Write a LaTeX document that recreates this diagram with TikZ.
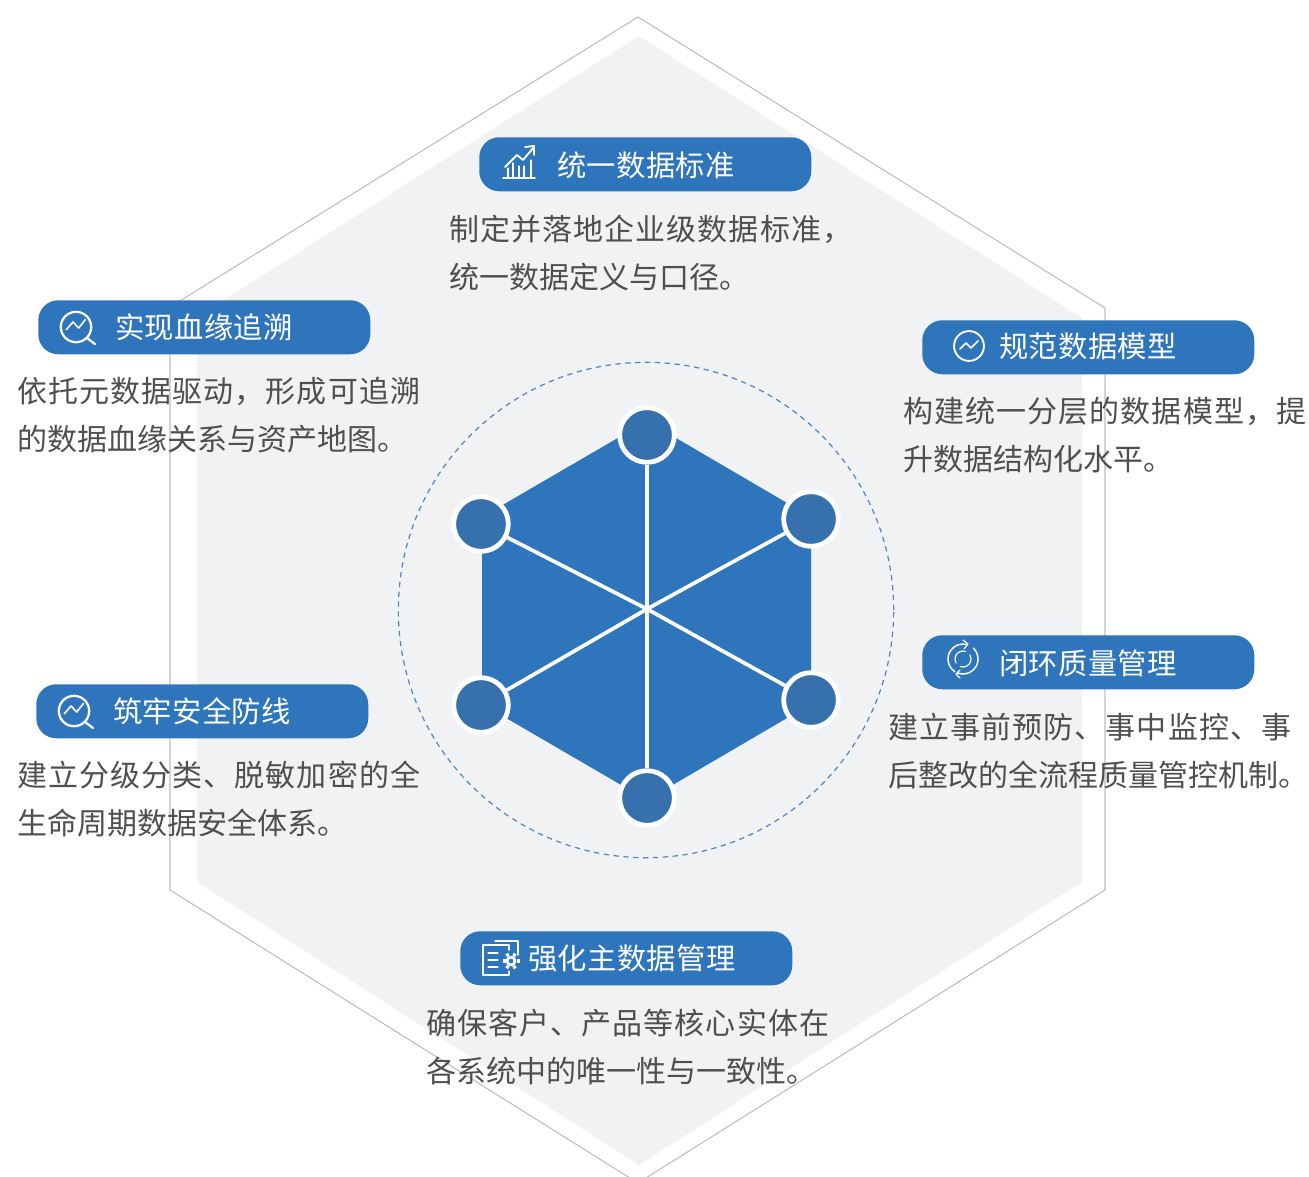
\documentclass[tikz,border=0pt]{standalone}
\usepackage{fontspec}
\setmainfont{Noto Sans CJK SC}
\newfontfamily\cjkbody[LetterSpace=3.6]{Noto Sans CJK SC}
\newfontfamily\cjkplain{Noto Sans CJK SC}
\newfontfamily\cjkhead[LetterSpace=1]{Noto Sans CJK SC}
\definecolor{pillblue}{HTML}{2E75BB}
\definecolor{nodeblue}{HTML}{3671AD}
\definecolor{hexgrey}{HTML}{F1F2F4}
\definecolor{hexline}{HTML}{BDBDBD}
\definecolor{bodytext}{HTML}{4F4F4F}
\definecolor{dashblue}{HTML}{4A86C5}
\tikzset{
  x=0.75pt,y=-0.75pt,
  pill/.style={fill=pillblue,rounded corners=15pt,minimum width=249pt,minimum height=40.5pt,inner sep=0pt,anchor=north west},
  pilltext/.style={text=white,anchor=west,inner sep=0pt,font=\fontsize{22pt}{26pt}\selectfont\cjkhead},
  bodylabel/.style={text=bodytext,anchor=north west,inner sep=0pt,align=left,font=\fontsize{22.5pt}{36pt}\selectfont\cjkbody},
  hubdot/.style={circle,fill=nodeblue,draw=white,line width=3.6pt,minimum size=41pt,inner sep=0pt},
  spoke/.style={draw=white,line width=2.8pt},
  icon/.style={draw=white,line width=1.4pt,line cap=round,line join=round},
  iconthin/.style={draw=white,line width=0.9pt,line cap=round,line join=round},
}
\newcommand{\searchicon}[2]{%
  \begin{scope}[shift={(#1,#2)}]
    \draw[icon,line width=1.7pt] (0,0) circle[radius=11.4pt];
    \draw[icon,line width=1.7pt] (11,11) -- (19,17);
    \draw[icon,line width=1.2pt] (-9.7,2.7) -- (-3,-5) -- (2.7,1) -- (9.3,-7.3);
  \end{scope}}
\begin{document}
\begin{tikzpicture}
\useasboundingbox (0,0) rectangle (1309,1177);
\clip (0,0) rectangle (1309,1177);
% hexagons
\coordinate (ot) at (638,17);\coordinate (otr) at (1105,308);\coordinate (obr) at (1105,890);
\coordinate (ob) at (638,1183);\coordinate (obl) at (170,890);\coordinate (otl) at (170,307);
\coordinate (it) at (639,36);\coordinate (itr) at (1082,318);\coordinate (ibr) at (1082,882);
\coordinate (ib) at (639,1165);\coordinate (ibl) at (197,882);\coordinate (itl) at (197,317);
\fill[hexgrey] (it)--(itr)--(ibr)--(ib)--(ibl)--(itl)--cycle;
\draw[hexline,line width=0.8pt] (ot)--(otr)--(obr)--(ob)--(obl)--(otl)--cycle;
% dashed ring
\coordinate (rc) at (646,610);
\node[circle,draw=dashblue,dash pattern=on 4pt off 3.4pt,line width=0.9pt,minimum size=371.5pt,inner sep=0pt] (ring) at (rc) {};
% central hexagon
\coordinate (c) at (647,609);
\fill[pillblue] (647,421)--(811,517)--(811,704)--(647,800)--(482,704)--(482,517)--cycle;
\node[hubdot] (n1) at (647,435) {};
\node[hubdot] (n2) at (811,519) {};
\node[hubdot] (n3) at (811,700) {};
\node[hubdot] (n4) at (647,798) {};
\node[hubdot] (n5) at (481,705) {};
\node[hubdot] (n6) at (481,524) {};
\foreach \n in {n1,n2,n3,n4,n5,n6} \draw[spoke] (c) -- (\n);
% pills
\node[pill] (p1) at (479,137) {};
\node[pill] (p2) at (38,300) {};
\node[pill] (p3) at (922,320) {};
\node[pill] (p4) at (922,635) {};
\node[pill] (p5) at (36,684) {};
\node[pill] (p6) at (460,931) {};
\node[pilltext] (t1) at (557,165) {统一数据标准};
\node[pilltext] (t2) at (115,327) {实现血缘追溯};
\node[pilltext] (t3) at (999,346) {规范数据模型};
\node[pilltext] (t4) at (999,663) {闭环质量管理};
\node[pilltext] (t5) at (113,711) {筑牢安全防线};
\node[pilltext] (t6) at (528,958) {强化主数据管理};
% bodies
\node[bodylabel] (b1) at (449,215) {制定并落地企业级数据标准，\\\cjkplain 统一数据定义与口径。};
\node[bodylabel] (b2) at (17,377) {依托元数据驱动，形成可追溯\\\cjkplain 的数据血缘关系与资产地图。};
\node[bodylabel] (b3) at (903,397) {构建统一分层的数据模型，提\\\cjkplain 升数据结构化水平。};
\node[bodylabel] (b4) at (888,713) {建立事前预防、事中监控、事\\\cjkplain 后整改的全流程质量管控机制。};
\node[bodylabel] (b5) at (17,761) {建立分级分类、脱敏加密的全\\\cjkplain 生命周期数据安全体系。};
\node[bodylabel] (b6) at (426,1009) {确保客户、产品等核心实体在\\\cjkplain 各系统中的唯一性与一致性。};
% icons
\draw[icon] (503,178) -- (535,178);
\draw[iconthin] (508,178) -- (508,168) (513,178) -- (513,163);
\draw[iconthin] (519,178) -- (519,166) (524,178) -- (524,166);
\draw[iconthin] (531,178) -- (531,160);
\draw[icon] (505,167) -- (517,155) -- (523,160) -- (534,147);
\draw[icon] (525,147) -- (534,146) -- (534,155);
\searchicon{76}{327}
\searchicon{74}{711}
\draw[icon] (969,346) circle[radius=11.2pt];
\draw[icon,line width=1.1pt] (960,349) -- (966,343) -- (971,348) -- (978,341);
\begin{scope}[shift={(963,659)}]
  \draw[icon,line width=1.1pt] (123:15) arc[start angle=123,end angle=287,radius=15];
  \draw[icon,line width=1.1pt] (-46:15) arc[start angle=-46,end angle=111,radius=15];
  \draw[iconthin] (0,-19) -- (5,-15) -- (1,-10);
  \draw[iconthin] (-3,19) -- (-7,15) -- (-3,11);
  \draw[iconthin] (150:8) arc[start angle=150,end angle=290,radius=8];
  \draw[iconthin] (-30:8) arc[start angle=-30,end angle=110,radius=8];
\end{scope}
\draw[iconthin] (495,941) -- (518,941) -- (518,955);
\draw[iconthin] (483,945) -- (509,945) -- (509,950);
\draw[iconthin] (483,945) -- (483,975) -- (509,975) -- (509,971);
\draw[iconthin] (488,953) -- (498,953) (488,960) -- (498,960) (488,967) -- (498,967);
\draw[icon,line width=2pt] (511,961) circle[radius=3pt];
\foreach \a in {0,60,...,300} \draw[icon,line width=2.4pt,line cap=butt,shift={(511,961)}] (\a:5.5) -- (\a:8.5);
\end{tikzpicture}
\end{document}
